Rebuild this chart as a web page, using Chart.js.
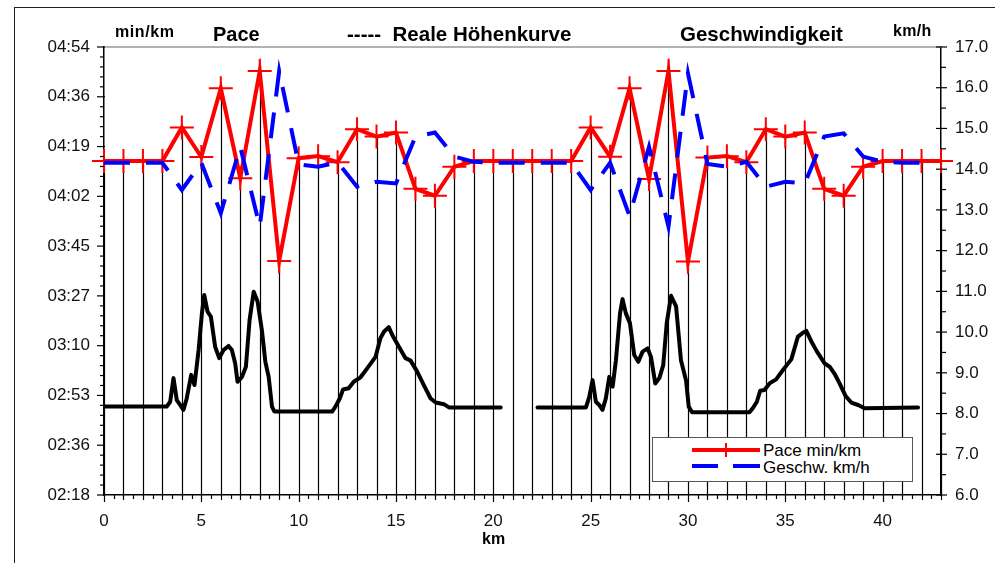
<!DOCTYPE html>
<html><head><meta charset="utf-8">
<script src="https://cdn.jsdelivr.net/npm/chart.js@4.4.1/dist/chart.umd.min.js"></script>
<style>
html,body{margin:0;padding:0;background:#fff;width:995px;height:563px;overflow:hidden;font-family:'Liberation Sans',Arial,sans-serif;}
#wrap{position:relative;width:995px;height:563px;}
canvas{position:absolute;left:0;top:0;}
.t{position:absolute;white-space:pre;line-height:1;font-weight:bold;color:#000;}
#frame{position:absolute;left:14px;top:7px;width:1200px;height:800px;border-left:1.5px solid #222;border-top:1.5px solid #222;}
#legend{position:absolute;left:652px;top:437px;width:259px;height:43px;border:1px solid #555;background:#fff;}
.lg{position:absolute;}
.lt{position:absolute;white-space:pre;line-height:1;font-size:17px;color:#000;}
</style></head>
<body><div id="wrap">
<div id="frame"></div>
<canvas id="c" width="995" height="563"></canvas>
<div class="t" style="left:115px;top:24px;font-size:16px;letter-spacing:0.6px;">min/km</div>
<div class="t" style="left:213px;top:23.5px;font-size:20px;">Pace</div>
<div class="t" style="left:347px;top:23.5px;font-size:20.5px;">-----  Reale Höhenkurve</div>
<div class="t" style="left:680px;top:23.5px;font-size:20.5px;">Geschwindigkeit</div>
<div class="t" style="left:893px;top:23px;font-size:16px;letter-spacing:0.3px;">km/h</div>
<div class="t" style="left:482px;top:531px;font-size:16px;">km</div>
<div id="legend"></div>
<div class="lg" style="left:692px;top:448px;width:68px;height:4px;background:#ff0000;"></div>
<div class="lg" style="left:725px;top:443px;width:2px;height:14px;background:#ff0000;"></div>
<div class="lg" style="left:692px;top:464px;width:26px;height:4px;background:#0000ff;"></div>
<div class="lg" style="left:733px;top:464px;width:27px;height:4px;background:#0000ff;"></div>
<div class="lt" style="left:763px;top:441.5px;">Pace min/km</div>
<div class="lt" style="left:763px;top:458.5px;">Geschw. km/h</div>
</div>
<script>
// Pace per km (seconds per km), km 0..43
const paceKm = [0,1,2,3,4,5,6,7,8,9,10,11,12,13,14,15,16,17,18,19,20,21,22,23,24,25,26,27,28,29,30,31,32,33,34,35,36,37,38,39,40,41,42,43];
const paceSec = [254.3,254.3,254.3,254.3,266,255.7,279.6,248.3,285.6,219.5,255.3,256,253.9,265.4,262.8,264.2,244.6,242.2,252.3,254.3,254.3,
                 254.3,254.3,254.3,254.3,266,255.8,279.6,248,285.6,219.3,255.5,256,253.9,265.4,262.8,264.2,244.6,242.2,252.3,254.3,254.3,254.3,254.3];
// Speed km/h, km 0..42
const speedKm = [0,1,2,3,4,5,6,7,8,9,10,11,12,13,14,15,16,17,18,19,20,21,22,23,24,25,26,27,28,29,30,31,32,33,34,35,36,37,38,39,40,41,42];
const speedVal = [14.16,14.16,14.16,14.16,13.49,14.16,12.92,14.55,12.59,16.41,14.12,14.06,14.17,13.57,13.69,13.65,14.80,14.90,14.31,14.18,14.16,
                  14.16,14.16,14.16,14.16,13.49,14.16,12.85,14.55,12.59,16.35,14.13,14.06,14.18,13.57,13.69,13.65,14.80,14.88,14.31,14.18,14.16,14.16];
// Elevation profile (relative, drawn on a hidden scale), null = gap
const elevKm = [0,3.22,3.40,3.57,3.74,3.91,4.08,4.25,4.48,4.65,4.86,5.03,5.15,5.32,5.49,5.71,5.92,6.14,6.40,6.57,6.74,6.86,7.09,7.29,7.48,7.69,7.89,8.11,8.29,8.46,8.63,8.75,11.72,11.89,12.11,12.28,12.57,12.83,13.18,13.52,13.95,14.20,14.38,14.63,14.81,15.15,15.49,15.75,16.09,16.43,16.78,17.04,17.46,17.72,20.38,
  21.3,
  22.27,24.76,24.93,25.10,25.27,25.44,25.61,25.78,25.96,26.13,26.30,26.51,26.64,26.81,27.02,27.24,27.45,27.67,27.93,28.10,28.32,28.53,28.73,28.91,29.13,29.39,29.64,29.90,30.04,30.21,33.16,33.33,33.54,33.71,33.93,34.19,34.53,34.88,35.31,35.65,35.87,36.08,36.34,36.63,37.02,37.28,37.54,37.79,38.10,38.39,38.74,39.08,41.82];
const elevVal = [8.17,8.17,8.29,8.87,8.33,8.21,8.09,8.37,8.95,8.70,9.56,10.46,10.91,10.50,10.38,9.64,9.36,9.56,9.66,9.56,9.23,8.78,8.90,9.15,10.30,10.99,10.75,10.05,9.27,8.90,8.17,8.05,8.05,8.17,8.37,8.59,8.62,8.78,8.89,9.11,9.39,9.85,10.01,10.12,9.93,9.64,9.36,9.30,9.03,8.70,8.37,8.27,8.23,8.15,8.15,
  null,
  8.15,8.15,8.41,8.82,8.29,8.21,8.09,8.37,8.90,8.66,9.31,10.46,10.81,10.46,10.22,9.44,9.27,9.52,9.60,9.39,8.74,8.87,9.19,10.22,10.89,10.63,9.31,8.82,8.17,8.03,8.03,8.13,8.29,8.56,8.58,8.74,8.84,9.07,9.33,9.89,9.97,10.03,9.77,9.52,9.23,9.15,8.97,8.74,8.43,8.27,8.21,8.13,8.15];
// Tick labels
const paceTickLabels = ['02:18','02:36','02:53','03:10','03:27','03:45','04:02','04:19','04:36','04:54'];
const paceMin = 138, paceMax = 294;
const speedTicks = [6,7,8,9,10,11,12,13,14,15,16,17];
const kmTicks = [0,5,10,15,20,25,30,35,40];
const kmMin = 0, kmMax = 43;

const FONT = "'Liberation Sans', Arial, sans-serif";

const decor = {
  id: 'decor',
  beforeDatasetsDraw(chart) {
    const ctx = chart.ctx, a = chart.chartArea;
    const meta = chart.getDatasetMeta(1);
    ctx.save();
    ctx.strokeStyle = '#000'; ctx.lineWidth = 1.2;
    meta.data.forEach(p => {
      const x = Math.round(p.x) + 0.5;
      ctx.beginPath(); ctx.moveTo(x, p.y); ctx.lineTo(x, a.bottom); ctx.stroke();
    });
    ctx.restore();
  },
  afterDraw(chart) {
    const ctx = chart.ctx, a = chart.chartArea, s = chart.scales;
    ctx.save();
    ctx.strokeStyle = '#999'; ctx.lineWidth = 1.5;
    ctx.beginPath(); ctx.moveTo(a.left, a.top); ctx.lineTo(a.right, a.top); ctx.stroke();
    ctx.strokeStyle = '#000'; ctx.lineWidth = 1.2;
    const yp = s.yPace, n = paceTickLabels.length;
    const step = (paceMax - paceMin) / (n - 1);
    for (let i = 0; i < n; i++) {
      const y = yp.getPixelForValue(paceMin + i * step);
      ctx.beginPath(); ctx.moveTo(a.left - 7, y); ctx.lineTo(a.left + 1, y); ctx.stroke();
      if (i < n - 1) for (let k = 1; k < 5; k++) {
        const ym = yp.getPixelForValue(paceMin + (i + k / 5) * step);
        ctx.beginPath(); ctx.moveTo(a.left - 4, ym); ctx.lineTo(a.left, ym); ctx.stroke();
      }
    }
    const ys = s.ySpeed;
    speedTicks.forEach((v, i) => {
      const y = ys.getPixelForValue(v);
      ctx.beginPath(); ctx.moveTo(a.right - 5, y); ctx.lineTo(a.right + 6, y); ctx.stroke();
      if (i < speedTicks.length - 1) {
        const ym = ys.getPixelForValue(v + 0.5);
        ctx.beginPath(); ctx.moveTo(a.right, ym); ctx.lineTo(a.right + 5, ym); ctx.stroke();
      }
    });
    const xs = s.x;
    for (let v = kmMin; v <= kmMax + 0.001; v += 0.5) {
      const x = Math.round(xs.getPixelForValue(v)) + 0.5;
      const len = (Math.abs(v % 5) < 0.01) ? 7 : (Math.abs(v % 1) < 0.01 ? 5 : 4);
      ctx.beginPath(); ctx.moveTo(x, a.bottom); ctx.lineTo(x, a.bottom + len); ctx.stroke();
    }
    ctx.restore();
  }
};

const gridOff = { display: false, drawTicks: false, tickLength: 0 };

new Chart(document.getElementById('c'), {
  type: 'line',
  data: {
    datasets: [
      { label: 'Geschw. km/h', data: speedKm.map((x, i) => ({x, y: speedVal[i]})), yAxisID: 'ySpeed',
        borderColor: '#0000ff', borderWidth: 4, borderDash: [26, 16], pointRadius: 0, tension: 0, fill: false, order: 0 },
      { label: 'Pace min/km', data: paceKm.map((x, i) => ({x, y: paceSec[i]})), yAxisID: 'yPace',
        borderColor: '#ff0000', borderWidth: 4, pointStyle: 'cross', pointRadius: 12, pointBorderWidth: 2,
        pointBorderColor: '#ff0000', pointBackgroundColor: '#ff0000', tension: 0, fill: false, clip: false, order: 1 },
      { label: 'Reale Höhenkurve', data: elevKm.map((x, i) => ({x, y: elevVal[i]})), yAxisID: 'yElev',
        borderColor: '#000', borderWidth: 4, pointRadius: 0, tension: 0, fill: false, spanGaps: false,
        borderJoinStyle: 'round', borderCapStyle: 'round', order: 2 }
    ]
  },
  options: {
    responsive: false, animation: false, devicePixelRatio: 1, events: [],
    layout: { padding: { top: 47, left: 0, right: 0, bottom: 0 } },
    plugins: { legend: { display: false }, tooltip: { enabled: false }, title: { display: false } },
    scales: {
      x: { type: 'linear', position: 'bottom', min: kmMin, max: kmMax,
        afterBuildTicks: sc => { sc.ticks = kmTicks.map(v => ({value: v})); },
        afterFit: sc => { sc.height = 68; },
        grid: gridOff, border: { display: true, color: '#000', width: 1.5 },
        ticks: { font: { family: FONT, size: 17 }, color: '#111', padding: 16, maxRotation: 0, autoSkip: false,
          callback: v => String(v) } },
      yPace: { type: 'linear', position: 'left', min: paceMin, max: paceMax,
        afterBuildTicks: sc => { const st = (paceMax - paceMin) / (paceTickLabels.length - 1);
          sc.ticks = paceTickLabels.map((l, i) => ({value: paceMin + i * st})); },
        afterFit: sc => { sc.width = 104; },
        grid: gridOff, border: { display: true, color: '#000', width: 1.5 },
        ticks: { font: { family: FONT, size: 17 }, color: '#111', padding: 14, autoSkip: false,
          callback: (v, i) => paceTickLabels[i] } },
      ySpeed: { type: 'linear', position: 'right', min: 6, max: 17,
        afterBuildTicks: sc => { sc.ticks = speedTicks.map(v => ({value: v})); },
        afterFit: sc => { sc.width = 54; },
        grid: gridOff, border: { display: true, color: '#000', width: 1.5 },
        ticks: { font: { family: FONT, size: 17 }, color: '#111', padding: 14, autoSkip: false,
          callback: v => Number(v).toFixed(1) } },
      yElev: { type: 'linear', display: false, min: 6, max: 17 }
    }
  },
  plugins: [decor]
});
</script>
</body></html>
